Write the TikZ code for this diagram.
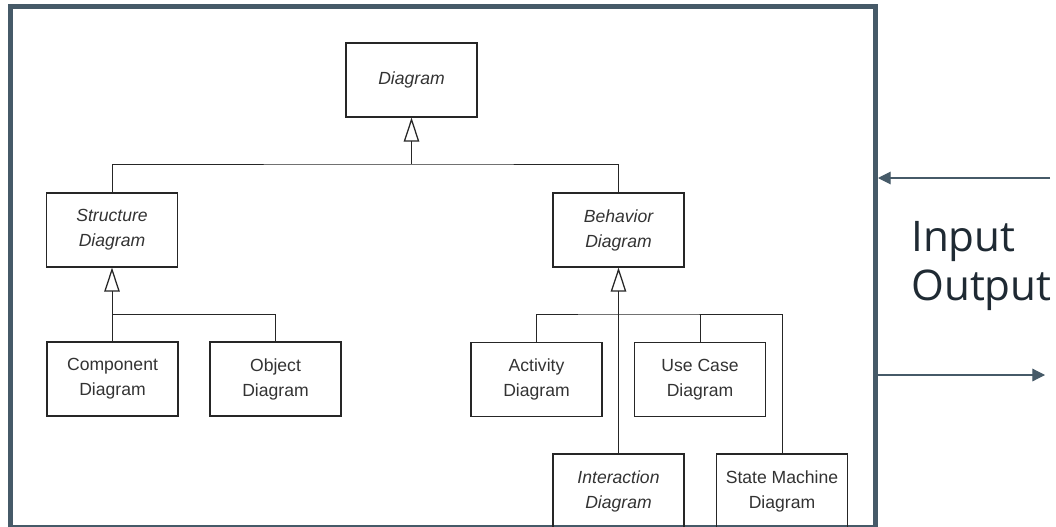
\documentclass[tikz,border=0pt]{standalone}
\usepackage{fontspec}
\setmainfont{Liberation Sans}
\newfontfamily\iofont{Open Sans}
\usetikzlibrary{arrows.meta,positioning}
\definecolor{slate}{HTML}{465A68}
\definecolor{boxtext}{HTML}{333333}
\definecolor{iotext}{HTML}{1F2A33}

\begin{document}
\begin{tikzpicture}[x=0.025cm, y=-0.025cm,
    umlbox/.style={draw=black!85, line width=0.9pt, minimum width=3.275cm,
      minimum height=1.85cm, inner sep=0pt, align=center, text=boxtext,
      font=\fontsize{12.5}{17.8}\selectfont},
    abstract/.style={umlbox, font=\fontsize{12.5}{17.8}\selectfont\itshape},
    link/.style={draw=black!85, line width=0.7pt},
    gen/.style={link, -{Triangle[open, length=17pt, width=11pt, line width=0.9pt]}},
    io/.style={draw=slate, line width=0.8pt, -{Triangle[length=9pt, width=9pt]}}]
  \clip (0,0) rectangle (1056,526);
  \fill[white] (0,0) rectangle (1056,526);

  % The frame
  \draw[slate, line width=3.6pt] (10.5,6.5) rectangle (875.5,528);

  % Root class
  \node[abstract] (diag) at (411.5,80) {Diagram};

  % Second level
  \node[abstract] (sdia) at (112,230) {Structure\\Diagram};
  \node[abstract] (bdia) at (618.5,230) {Behavior\\Diagram};

  % Structure diagrams
  \node[umlbox] (comp) at (112.5,379) {Component\\Diagram};
  \node[umlbox] (obj) at (275.5,379) {Object\\Diagram};

  % Behavior diagrams
  \node[umlbox] (act) at (536.5,379.5) {Activity\\Diagram};
  \node[umlbox] (usec) at (700,379.5) {Use Case\\Diagram};
  \node[abstract] (inter) at (618.5,491) {Interaction\\Diagram};
  \node[umlbox] (state) at (782,491) {State Machine\\Diagram};

  % Generalisation to Diagram
  \coordinate (top-join) at (411.5,164);
  \draw[link] (sdia.north) |- (top-join) -| (bdia.north);
  \draw[gen] (top-join) -- (diag.south);

  % Generalisation to Structure Diagram
  \coordinate (s-join) at (112,314);
  \draw[gen] (s-join) -- (sdia.south);
  \draw[link] (comp.north) -- (comp.north |- s-join) -| (obj.north);

  % Generalisation to Behavior Diagram
  \coordinate (b-join) at (618.5,314);
  \draw[gen] (b-join) -- (bdia.south);
  \draw[link] (act.north) |- (b-join) -| (state.north);
  \draw[link] (usec.north) -- (usec.north |- b-join);
  \draw[link] (inter.north) -- (b-join);

  % Input and output
  \coordinate (in-from) at (1050,178);
  \coordinate (in-to) at (878,178);
  \coordinate (out-from) at (878,375);
  \coordinate (out-to) at (1045,375);
  \draw[io] (in-from) -- (in-to);
  \draw[io] (out-from) -- (out-to);
  \node[anchor=west, align=left, inner sep=0pt, text=iotext,
    font=\iofont\fontsize{30}{35.5}\selectfont] (io-label) at (911,266)
    {Input\\Output};
\end{tikzpicture}
\end{document}
